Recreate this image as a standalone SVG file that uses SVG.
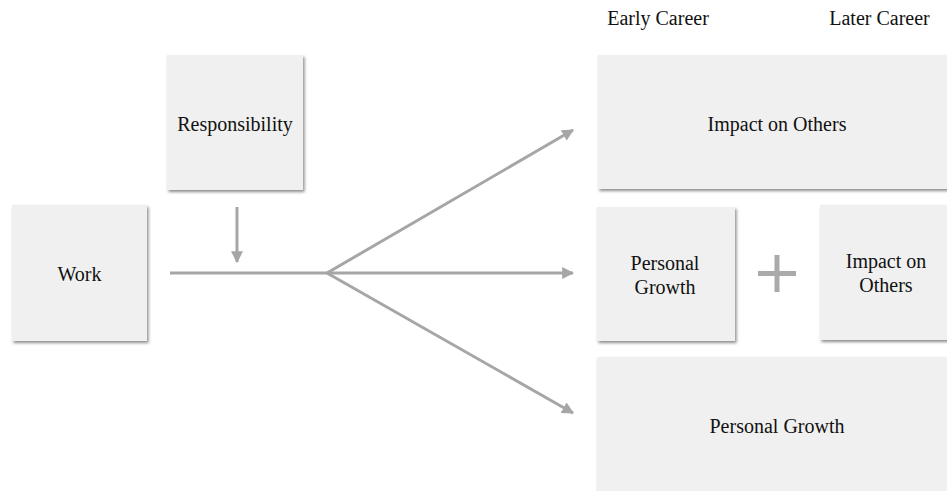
<svg xmlns="http://www.w3.org/2000/svg" width="947" height="491" viewBox="0 0 947 491">
<defs>
<filter id="sh" x="-10%" y="-10%" width="130%" height="130%">
<feDropShadow dx="1.5" dy="2" stdDeviation="1.5" flood-color="#000" flood-opacity="0.45"/>
</filter>
<marker id="ah" viewBox="0 0 10 10" refX="9" refY="5" markerWidth="4" markerHeight="4" orient="auto" markerUnits="strokeWidth">
<path d="M0,0 L10,5 L0,10 z" fill="#a6a6a6"/>
</marker>
<style>
.box{fill:#f0f0f0;filter:url(#sh);}
.t{font-family:'Liberation Serif','Times New Roman',serif;font-size:20px;fill:#111;text-anchor:middle;}
.ln{stroke:#a6a6a6;stroke-width:3;fill:none;}
</style>
</defs>
<rect width="947" height="491" fill="#fff"/>
<text class="t" x="658" y="25">Early Career</text>
<text class="t" x="879.5" y="25">Later Career</text>
<g id="work"><rect class="box" x="12" y="205" width="135" height="136"/><text class="t" x="79.5" y="281">Work</text></g>
<g id="responsibility"><rect class="box" x="167" y="55" width="136" height="135"/><text class="t" x="235" y="131">Responsibility</text></g>
<g id="impact-early"><rect class="box" x="598" y="55" width="360" height="134"/><text class="t" x="777" y="131">Impact on Others</text></g>
<g id="growth-mid"><rect class="box" x="597" y="207" width="138" height="134"/><text class="t" x="665" y="270">Personal</text><text class="t" x="665" y="294">Growth</text></g>
<g id="impact-mid"><rect class="box" x="820" y="205" width="140" height="135"/><text class="t" x="886" y="268">Impact on</text><text class="t" x="886" y="292">Others</text></g>
<g id="plus"><path d="M758,273.5 H796 M777,255 V292" stroke="#aaa" stroke-width="5" fill="none"/></g>
<g id="growth-early"><rect class="box" x="597" y="357" width="360" height="150"/><text class="t" x="777" y="433">Personal Growth</text></g>
<g id="connectors">
<line class="ln" x1="237" y1="207" x2="237" y2="262" marker-end="url(#ah)"/>
<line class="ln" x1="170" y1="273" x2="573" y2="273" marker-end="url(#ah)"/>
<line class="ln" x1="327" y1="273" x2="573" y2="130" marker-end="url(#ah)"/>
<line class="ln" x1="327" y1="273" x2="573" y2="413" marker-end="url(#ah)"/>
</g>
</svg>
